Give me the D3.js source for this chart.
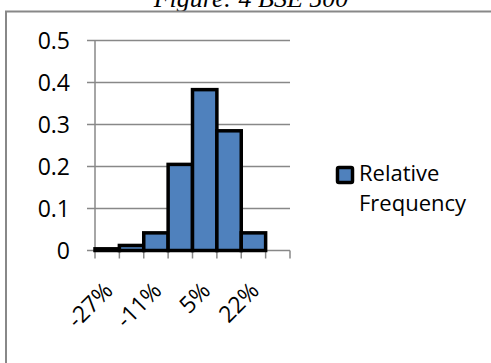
<!DOCTYPE html>
<html><head><meta charset="utf-8">
<script src="https://cdn.jsdelivr.net/npm/d3@7"></script>
<style>html,body{margin:0;padding:0;background:#fff;overflow:hidden}</style>
</head><body>
<script>
const categories = ["-27%","-19%","-11%","-3%","5%","13%","22%","30%"];
const values = [0.004, 0.012, 0.042, 0.205, 0.383, 0.285, 0.042, 0];
const yTicks = [0, 0.1, 0.2, 0.3, 0.4, 0.5];
const shownLabels = ["-27%","-11%","5%","22%"];
const seriesName = ["Relative", "Frequency"];
const title = "Figure: 4 BSE 500";

const W = 491, H = 363;
const svg = d3.select("body").append("svg").attr("width", W).attr("height", H);
const font = "'Open Sans', sans-serif";
const fs = 23;

// title (clipped at top, as in the reference)
svg.append("text").attr("x", 251).attr("y", 7).attr("text-anchor","middle")
  .attr("font-family","'Liberation Serif', serif").attr("font-style","italic")
  .attr("font-size", 26).attr("fill","#000").text(title);

// chart border
svg.append("rect").attr("x", 6).attr("y", 11.5).attr("width", 500).attr("height", 400)
  .attr("fill","#fff").attr("stroke","#888").attr("stroke-width", 2);

const x = d3.scaleBand().domain(categories).range([95, 290]).padding(0);
const y = d3.scaleLinear().domain([0, 0.5]).range([250.5, 40.5]);

// gridlines
svg.append("g").selectAll("line").data(yTicks).join("line")
  .attr("x1", 87).attr("x2", 290).attr("y1", d => y(d)).attr("y2", d => y(d))
  .attr("stroke", "#888").attr("stroke-width", 1.5);

// y axis line
svg.append("line").attr("x1", 95).attr("x2", 95).attr("y1", y(0.5)).attr("y2", y(0))
  .attr("stroke","#888").attr("stroke-width", 1.5);

// y labels
svg.append("g").selectAll("text").data(yTicks).join("text")
  .attr("x", 70).attr("y", d => y(d)).attr("dy", "0.36em").attr("text-anchor","end")
  .attr("font-family", font).attr("font-size", fs).attr("fill","#000")
  .text(d => d3.format(".1~f")(d));

// x tick marks
const tickPos = categories.map(c => x(c)).concat([x.range()[1]]);
svg.append("g").selectAll("line").data(tickPos).join("line")
  .attr("x1", d => d).attr("x2", d => d).attr("y1", y(0)).attr("y2", y(0) + 8)
  .attr("stroke","#888").attr("stroke-width", 1.5);

// bars
svg.append("g").selectAll("rect").data(values.map((v,i)=>({c:categories[i], v})).filter(d => d.v > 0)).join("rect")
  .attr("x", d => x(d.c)).attr("width", x.bandwidth())
  .attr("y", d => y(d.v)).attr("height", d => y(0) - y(d.v))
  .attr("fill", "#4F81BD").attr("stroke", "#000").attr("stroke-width", 3.5);

// x labels
svg.append("g").selectAll("text").data(shownLabels).join("text")
  .attr("text-anchor","end")
  .attr("transform", d => `translate(${x(d) + x.bandwidth()/2 + 7},292) rotate(-45)`)
  .attr("font-family", font).attr("font-size", fs).attr("fill","#000")
  .text(d => d);

// legend
svg.append("rect").attr("x", 337.5).attr("y", 167.5).attr("width", 15).attr("height", 15)
  .attr("rx", 1.5).attr("fill", "#4F81BD").attr("stroke", "#000").attr("stroke-width", 3.5);
svg.append("g").selectAll("text").data(seriesName).join("text")
  .attr("x", 359).attr("y", (d,i) => 180.5 + i * 30)
  .attr("font-family", font).attr("font-size", 22).attr("fill","#000")
  .text(d => d);
</script>
</body></html>
